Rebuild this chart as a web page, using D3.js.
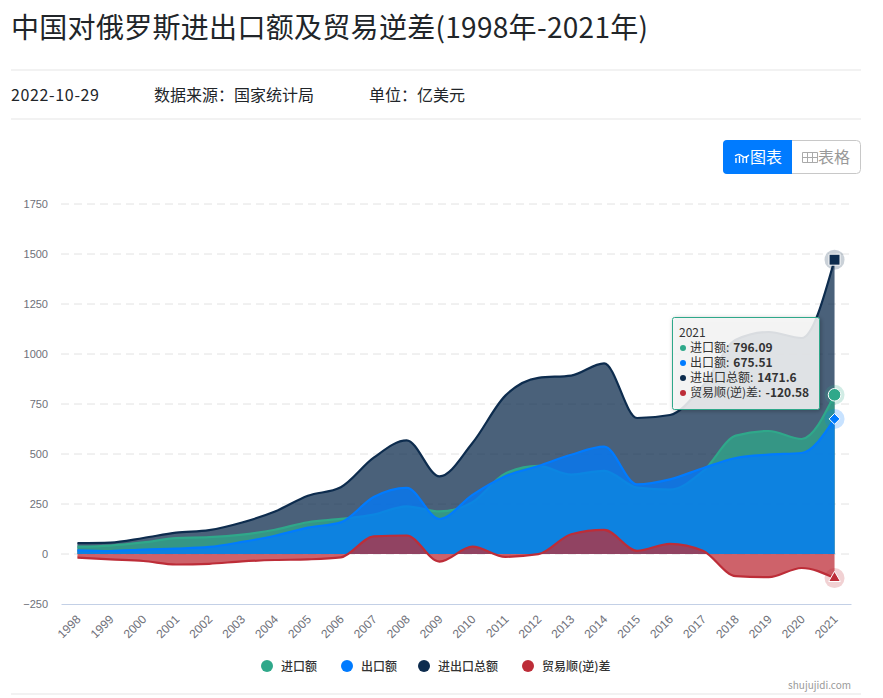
<!doctype html>
<html>

<head>
  <meta charset="utf8"/>
  <style>
    html, body { margin: 0; padding: 0; background: #fff; overflow: hidden; }
    svg { display: block; font-family: "Noto Sans CJK SC", "Noto Sans", sans-serif; }
  </style>
</head>

<body>
  <svg width='883' height='698'></svg>
  <script src="https://d3js.org/d3.v7.min.js"></script>

  <script>

    var years = ['1998','1999','2000','2001','2002','2003','2004','2005','2006','2007','2008','2009',
                 '2010','2011','2012','2013','2014','2015','2016','2017','2018','2019','2020','2021'];
    var imports = [36.4,42.2,57.7,79.6,84.1,97.3,121.3,158.9,175.5,196.9,238.3,212.8,
                   259,403,441,397,416,332,322,413,592,615,575,796.09];
    var exports_ = [18.4,15,22.3,27.1,35.2,60.3,91,132.1,158.3,284.9,330.8,175.1,
                    296,389,440,496,537,348,373,429,480,497,505,675.51];
    var totals = [54.8,57.2,80,106.7,119.3,157.6,212.3,291,333.9,481.6,568.3,387.9,
                  555,792,881,892,953,680,695,841,1071,1110,1080,1471.6];
    var balances = [-18,-27,-35,-52.5,-49,-37,-30,-27,-17,88,92.5,-37.7,
                    37,-14,-1,99,121,16,51,16,-111,-116,-70,-120.58];
    var yTicks = [-250,0,250,500,750,1000,1250,1500,1750];

    var legendNames = ['进口额','出口额','进出口总额','贸易顺(逆)差'];
    var legendColors = ['#2fa88a','#007bff','#0d2c4e','#bd2d38'];
    var legendX = [267,347,424,528];

    var svg = d3.select('svg');
    var margin = {top: 204, right: 32, bottom: 94, left: 61};
    var width = 883 - margin.left - margin.right;
    var height = 698 - margin.top - margin.bottom;
    var g = svg.append('g').attr('transform', 'translate(' + margin.left + ',' + margin.top + ')');

    // page header
    svg.append('text').attr('x', 11).attr('y', 38).attr('font-size', 28).attr('fill', '#212529')
       .attr('textLength', 637).attr('lengthAdjust', 'spacing')
       .text('中国对俄罗斯进出口额及贸易逆差(1998年-2021年)');
    [70, 119, 694].forEach(function(y) {
      svg.append('line').attr('x1', 11).attr('x2', 861).attr('y1', y).attr('y2', y)
         .attr('stroke', '#e5e5e5');
    });
    [['2022-10-29', 11, 88], ['数据来源：国家统计局', 154, 160], ['单位：亿美元', 369, 96]].forEach(function(d) {
      svg.append('text').attr('x', d[1]).attr('y', 101).attr('font-size', 16).attr('fill', '#212529')
         .attr('textLength', d[2]).text(d[0]);
    });

    // chart / table switch
    var btn = svg.append('g');
    btn.append('rect').attr('x', 723.5).attr('y', 140.5).attr('width', 137).attr('height', 33).attr('rx', 4)
       .attr('fill', '#fff').attr('stroke', '#c8c8c8');
    btn.append('path').attr('d', 'M727 140h65v34h-65a4 4 0 0 1-4-4v-26a4 4 0 0 1 4-4z').attr('fill', '#007bff');
    btn.append('path').attr('d', 'M736 163v-5M739.500 163v-7M743 163v-5M746.500 163v-7M735 156q4-3 7 0t7-1')
       .attr('fill', 'none').attr('stroke', '#fff').attr('stroke-width', 1.4);
    btn.append('text').attr('x', 750).attr('y', 163).attr('font-size', 16).attr('fill', '#fff').text('图表');
    btn.append('path').attr('d', 'M802.500 152.500h15v10h-15zM802.500 157.500h15M807.500 152.500v10M812.500 152.500v10')
       .attr('fill', 'none').attr('stroke', '#aaa').attr('stroke-width', 1);
    btn.append('text').attr('x', 818).attr('y', 163).attr('font-size', 16).attr('fill', '#999').text('表格');

    var x = d3.scaleBand().domain(years).range([0, width]);
    var y = d3.scaleLinear().domain([-250, 1750]).range([height, 0]);
    var xc = function(i) { return x(years[i]) + x.bandwidth() / 2; };

    // axes
    var yAxis = g.append('g').call(d3.axisLeft(y).tickValues(yTicks).tickSize(0).tickPadding(13).tickFormat(d3.format('d')));
    yAxis.select('.domain').remove();
    yAxis.selectAll('text').attr('fill', '#6e7079').attr('font-size', 11).attr('font-family', 'inherit');
    g.append('g').selectAll('line').data(yTicks.filter(function(d) { return d !== -250; })).join('line')
       .attr('x1', 0).attr('x2', width)
       .attr('y1', function(d) { return y(d); }).attr('y2', function(d) { return y(d); })
       .attr('stroke', '#e2e2e2').attr('stroke-dasharray', '8,5');

    var xAxis = g.append('g').attr('transform', 'translate(0,' + height + ')')
       .call(d3.axisBottom(x).tickSize(0).tickPadding(0));
    xAxis.select('.domain').attr('stroke', '#c3d0e6');
    xAxis.selectAll('text')
       .attr('fill', '#6e7079').attr('font-size', 12).attr('font-family', 'inherit')
       .attr('text-anchor', 'end').attr('dy', 0)
       .attr('transform', 'translate(4,16) rotate(-45)');

    // areas, back to front
    var curve = d3.curveMonotoneX;
    var area = d3.area().x(function(d, i) { return xc(i); }).y0(y(0)).y1(function(d) { return y(d); }).curve(curve);
    var line = d3.line().x(function(d, i) { return xc(i); }).y(function(d) { return y(d); }).curve(curve);

    var layers = [
      {values: totals, color: legendColors[2]},
      {values: imports, color: legendColors[0]},
      {values: exports_, color: legendColors[1]},
      {values: balances, color: legendColors[3]}
    ];
    layers.forEach(function(s) {
      g.append('path').attr('d', area(s.values)).attr('fill', s.color).attr('fill-opacity', 0.75);
      g.append('path').attr('d', line(s.values)).attr('fill', 'none').attr('stroke', s.color)
       .attr('stroke-width', 2.2).attr('stroke-linejoin', 'round');
    });

    // highlighted 2021 symbols
    var last = years.length - 1;
    var symbols = [
      {v: imports[last], c: legendColors[0], t: d3.symbolCircle, s: 125},
      {v: exports_[last], c: legendColors[1], t: d3.symbolDiamond2, s: 75},
      {v: totals[last], c: legendColors[2], t: d3.symbolSquare, s: 121},
      {v: balances[last], c: legendColors[3], t: d3.symbolTriangle, s: 60}
    ];
    symbols.forEach(function(s) {
      var p = g.append('g').attr('transform', 'translate(' + xc(last) + ',' + y(s.v) + ')');
      p.append('circle').attr('r', 10).attr('fill', s.c).attr('fill-opacity', 0.22);
      p.append('path').attr('d', d3.symbol().type(s.t).size(s.s)()).attr('fill', s.c)
       .attr('stroke', '#fff').attr('stroke-width', 1);
    });

    // legend
    var leg = svg.append('g').selectAll('g').data(legendNames).join('g')
       .attr('transform', function(d, i) { return 'translate(' + legendX[i] + ',666)'; });
    leg.append('circle').attr('r', 6).attr('fill', function(d, i) { return legendColors[i]; });
    leg.append('text').attr('x', 14).attr('y', 4.5).attr('font-size', 12).attr('font-weight', 500)
       .attr('fill', '#333').text(function(d) { return d; });

    svg.append('text').attr('x', 851).attr('y', 689).attr('text-anchor', 'end').attr('font-size', 10)
       .attr('fill', '#999').text('shujujidi.com');

    // tooltip
    var defs = svg.append('defs');
    var shadow = defs.append('filter').attr('id', 'tipShadow').attr('x', '-10%').attr('y', '-10%')
       .attr('width', '120%').attr('height', '120%');
    shadow.append('feDropShadow').attr('dx', 1).attr('dy', 1).attr('stdDeviation', 2)
       .attr('flood-color', '#000').attr('flood-opacity', 0.3);
    var tip = svg.append('g').attr('transform', 'translate(672,317)');
    tip.append('rect').attr('x', 0.5).attr('y', 0.5).attr('width', 147).attr('height', 92).attr('rx', 2)
       .attr('fill', 'rgb(247,247,247)').attr('fill-opacity', 0.85).attr('stroke', legendColors[0])
       .attr('filter', 'url(#tipShadow)');
    tip.append('text').attr('x', 7).attr('y', 20).attr('font-size', 12).attr('fill', '#333').text(years[last]);
    var rows = [imports[last], exports_[last], totals[last], balances[last]];
    var row = tip.selectAll('g.row').data(rows).join('g').attr('class', 'row')
       .attr('transform', function(d, i) { return 'translate(0,' + (35 + i * 15) + ')'; });
    row.append('circle').attr('cx', 11).attr('cy', -4).attr('r', 3)
       .attr('fill', function(d, i) { return legendColors[i]; });
    var rowLabel = row.append('text').attr('x', 18).attr('font-size', 12).attr('fill', '#333')
       .text(function(d, i) { return legendNames[i] + ':'; });
    row.append('text').attr('font-size', 12).attr('font-weight', 700).attr('fill', '#333')
       .attr('x', function(d, i) { return 18 + rowLabel.nodes()[i].getComputedTextLength() + 4; })
       .text(function(d) { return d; });
  </script>
</body>

</html>
